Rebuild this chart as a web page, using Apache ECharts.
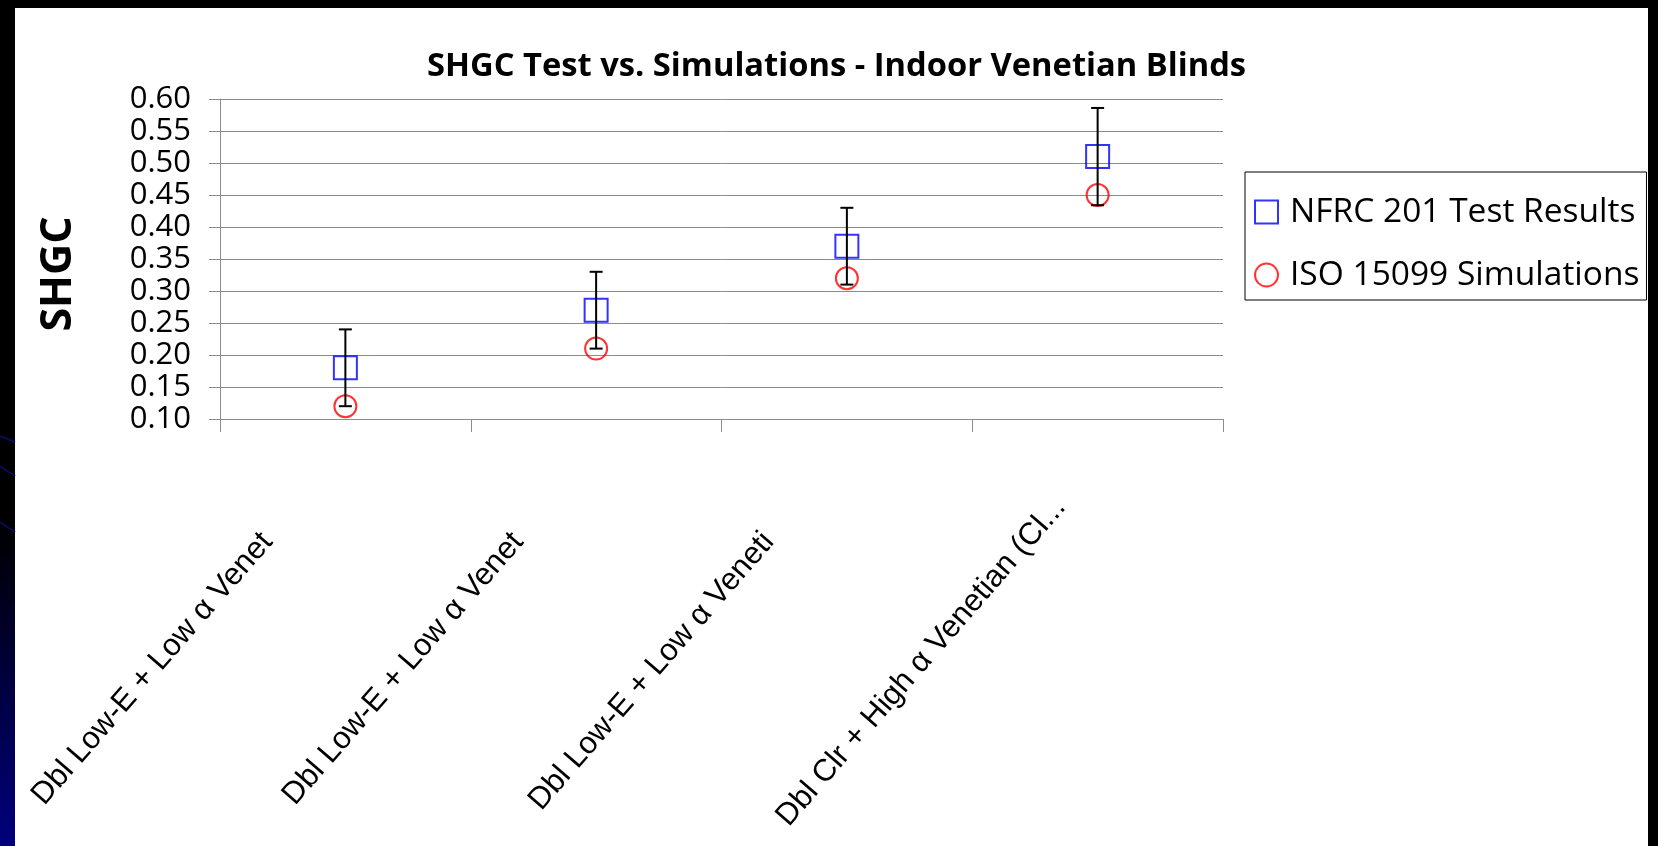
<!DOCTYPE html>
<html>
<head>
<meta charset="utf-8">
<title>SHGC Test vs. Simulations</title>
<script src="https://cdn.jsdelivr.net/npm/echarts@6/dist/echarts.min.js"></script>
<style>
  html, body { margin: 0; padding: 0; background: #fff; }
  #chart { width: 1658px; height: 846px; }
</style>
</head>
<body>
<div id="chart"></div>
<script>
// category labels as they appear (already cut off in the source chart)
const categories = [
  'Dbl Low-E + Low α Venet',
  'Dbl Low-E + Low α Venet',
  'Dbl Low-E + Low α Veneti',
  'Dbl Clr + High α Venetian (Cl...'
]
// NFRC 201 measured SHGC and its +/- error
const nfrcValues = [0.18, 0.27, 0.37, 0.51]
const nfrcError = [0.06, 0.06, 0.06, 0.076]
// ISO 15099 simulated SHGC
const isoValues = [0.12, 0.21, 0.32, 0.45]

const seriesNames = ['NFRC 201 Test Results', 'ISO 15099 Simulations']

const chart = echarts.init(document.getElementById('chart'))

const errorData = nfrcValues.map((v, i) => [i, v - nfrcError[i], v + nfrcError[i]])

const labelFont = { fontSize: 31, fontFamily: '"Liberation Sans", Arial, sans-serif', color: '#000' }

const option = {
  backgroundColor: '#fff',
  animation: false,
  title: {
    text: 'SHGC Test vs. Simulations - Indoor Venetian Blinds',
    left: 422,
    top: 45,
    textStyle: {
      fontFamily: '"Open Sans", sans-serif',
      fontWeight: 'bold',
      fontSize: 32.7,
      color: '#000'
    }
  },
  legend: {
    orient: 'vertical',
    left: 1245,
    top: 172,
    padding: [23, 7, 8, 9],
    itemGap: 29,
    itemWidth: 23,
    itemHeight: 23,
    borderColor: '#000',
    borderWidth: 1,
    textStyle: {
      fontFamily: '"Open Sans", sans-serif',
      fontSize: 33.5,
      color: '#000',
      padding: [0, 0, 0, 7]
    },
    data: [
      { name: seriesNames[0], icon: 'rect', itemStyle: { color: 'transparent', borderColor: '#0000ff', borderWidth: 2 } },
      { name: seriesNames[1], icon: 'circle', itemStyle: { color: 'transparent', borderColor: '#ff0000', borderWidth: 2 } }
    ]
  },
  grid: {
    left: 220,
    right: 435,
    top: 99,
    bottom: 427,
    outerBoundsMode: 'none'
  },
  xAxis: {
    type: 'category',
    data: categories,
    boundaryGap: true,
    axisLine: { lineStyle: { color: '#8c8c8c', width: 1 } },
    axisTick: { show: true, length: 13, lineStyle: { color: '#8c8c8c' } },
    axisLabel: {
      interval: 0,
      rotate: 49,
      margin: 40,
      ...labelFont,
      formatter: (value, idx) => (idx < 3 ? '{a|' + value + '}' : '{b|' + value + '}'),
      rich: {
        a: { padding: [0, 110, 16, 0], ...labelFont },
        b: { padding: [0, 57, 0, 0], ...labelFont }
      }
    }
  },
  yAxis: {
    type: 'value',
    min: 0.1,
    max: 0.6,
    interval: 0.05,
    name: 'SHGC',
    nameLocation: 'middle',
    nameGap: 140,
    nameTextStyle: {
      fontFamily: '"Open Sans", sans-serif',
      fontWeight: 'bold',
      fontSize: 43,
      color: '#000',
      padding: [0, 30, 0, 0]
    },
    axisLine: { show: true, lineStyle: { color: '#8c8c8c', width: 1 } },
    axisTick: { show: true, length: 11, lineStyle: { color: '#8c8c8c' } },
    axisLabel: {
      margin: 29,
      color: '#000',
      fontFamily: '"Open Sans", sans-serif',
      fontSize: 31,
      formatter: v => v.toFixed(2)
    },
    splitLine: { lineStyle: { color: '#8c8c8c', width: 1 } }
  },
  series: [
    {
      name: seriesNames[0],
      type: 'scatter',
      symbol: 'rect',
      symbolSize: 23,
      itemStyle: { color: 'transparent', borderColor: '#0000ff', borderWidth: 2 },
      data: nfrcValues.map((v, i) => [i, v]),
      z: 3
    },
    {
      name: seriesNames[1],
      type: 'scatter',
      symbol: 'circle',
      symbolSize: 22,
      itemStyle: { color: 'transparent', borderColor: '#ff0000', borderWidth: 2 },
      data: isoValues.map((v, i) => [i, v]),
      z: 3
    },
    {
      // error bars on the test results
      name: 'error',
      type: 'custom',
      data: errorData,
      z: 4,
      renderItem: (params, api) => {
        const x = api.value(0)
        const low = api.coord([x, api.value(1)])
        const high = api.coord([x, api.value(2)])
        const cap = 6.5
        const style = { stroke: '#000', lineWidth: 2 }
        return {
          type: 'group',
          children: [
            { type: 'line', shape: { x1: low[0], y1: low[1], x2: high[0], y2: high[1] }, style },
            { type: 'line', shape: { x1: high[0] - cap, y1: high[1], x2: high[0] + cap, y2: high[1] }, style },
            { type: 'line', shape: { x1: low[0] - cap, y1: low[1], x2: low[0] + cap, y2: low[1] }, style }
          ]
        }
      },
      encode: { x: 0, y: [1, 2] }
    }
  ],
  graphic: [
    // slide frame: black top and right edges, dark-to-navy strip on the left
    { type: 'rect', left: 0, top: 0, shape: { width: 1658, height: 8 }, style: { fill: '#000' }, silent: true },
    { type: 'rect', left: 1648, top: 0, shape: { width: 10, height: 846 }, style: { fill: '#000' }, silent: true },
    {
      type: 'rect', left: 0, top: 0, shape: { width: 15, height: 846 }, silent: true,
      style: {
        fill: new echarts.graphic.LinearGradient(0, 0, 0, 1, [
          { offset: 0, color: '#000' },
          { offset: 0.62, color: '#000' },
          { offset: 1, color: '#00007e' }
        ])
      }
    },
    { type: 'line', shape: { x1: 0, y1: 436, x2: 15, y2: 442 }, style: { stroke: '#0a0a5a', lineWidth: 2 }, silent: true },
    { type: 'line', shape: { x1: 0, y1: 466, x2: 15, y2: 476 }, style: { stroke: '#0a0a5a', lineWidth: 2 }, silent: true },
    { type: 'line', shape: { x1: 0, y1: 522, x2: 15, y2: 532 }, style: { stroke: '#0a0a5a', lineWidth: 2 }, silent: true }
  ]
}

chart.setOption(option)
</script>
</body>
</html>
